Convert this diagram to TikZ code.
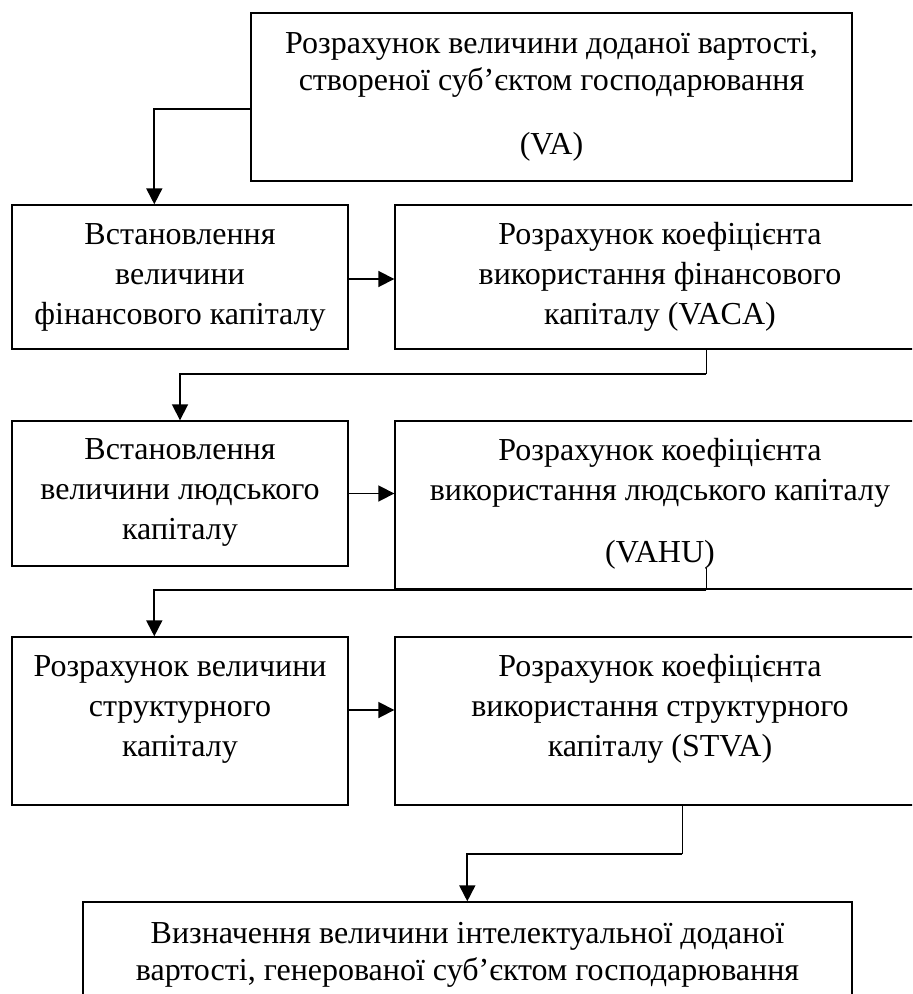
\documentclass[tikz,border=0pt]{standalone}
\usepackage{fontspec}
\setmainfont{Liberation Serif}
\usetikzlibrary{arrows.meta}
\begin{document}
\begin{tikzpicture}[x=0.5pt,y=-0.5pt,
  box/.style={draw=black,line width=0.7pt,inner sep=0pt,rectangle},
  txt/.style={align=center,inner sep=0pt,font=\fontsize{16}{20}\selectfont},
  txtS/.style={align=center,inner sep=0pt,font=\fontsize{16}{18.2}\selectfont},
  arr/.style={line width=0.9pt,-{Triangle[length=8pt,width=8pt]}},
  link/.style={line width=0.7pt}]
\useasboundingbox (0,0) rectangle (912,994);
\clip (0,0) rectangle (912,994);
% boxes
\node[box,minimum width=300.5pt,minimum height=84pt] (top) at (551.5,97) {};
\node[box,minimum width=168pt,minimum height=72pt] (r1L) at (180,277) {};
\node[box,minimum width=265pt,minimum height=72pt] (r1R) at (660,277) {};
\node[box,minimum width=168pt,minimum height=72.5pt] (r2L) at (180,493.5) {};
\node[box,minimum width=265pt,minimum height=84pt] (r2R) at (660,505) {};
\node[box,minimum width=168pt,minimum height=84pt] (r3L) at (180,721) {};
\node[box,minimum width=265pt,minimum height=84pt] (r3R) at (660,721) {};
\node[box,minimum width=384.5pt,minimum height=54pt] (bot) at (467.5,956) {};
% texts
\node[txtS] (topT) at (551.5,97) {Розрахунок величини доданої вартості,\\створеної суб’єктом господарювання\\[14pt](VA)};
\node[txt] (r1LT) at (180,277) {Встановлення\\величини\\фінансового капіталу};
\node[txt] (r1RT) at (660,277) {Розрахунок коефіцієнта\\використання фінансового\\капіталу (VACA)};
\node[txt] (r2LT) at (180,492) {Встановлення\\величини людського\\капіталу};
\node[txt] (r2RT) at (660,503.5) {Розрахунок коефіцієнта\\використання людського капіталу\\[11pt](VAHU)};
\node[txt] (r3LT) at (180,709) {Розрахунок величини\\структурного\\капіталу};
\node[txt] (r3RT) at (660,709) {Розрахунок коефіцієнта\\використання структурного\\капіталу (STVA)};
\node[txtS] (botT) at (467.5,955) {Визначення величини інтелектуальної доданої\\вартості, генерованої суб’єктом господарювання};
% connectors
\draw[arr] ([yshift=-6pt]top.west) -| ([xshift=71.5pt]r1L.north west);
\draw[arr] ([yshift=-1pt]r1L.east) -- ([yshift=-1pt]r1R.west);
\draw[link] ([xshift=156pt]r1R.south west) -- ++(0,24) coordinate (c1);
\draw[arr] (c1) -| (r2L.north);
\draw[arr] (r2L.east) -- (r2L.east -| r2R.west);
\draw[link] ([xshift=156pt,yshift=11pt]r2R.south west) -- ([xshift=156pt]r2R.south west) coordinate (c2);
\draw[arr] (c2) -| ([xshift=71.5pt]r3L.north west);
\draw[arr] ([yshift=5.5pt]r3L.east) -- ([yshift=5.5pt]r3R.west);
\draw[link] ([xshift=144pt]r3R.south west) -- ++(0,48) coordinate (c3);
\draw[arr] (c3) -| ([xshift=192.5pt]bot.north west);
\end{tikzpicture}
\end{document}
